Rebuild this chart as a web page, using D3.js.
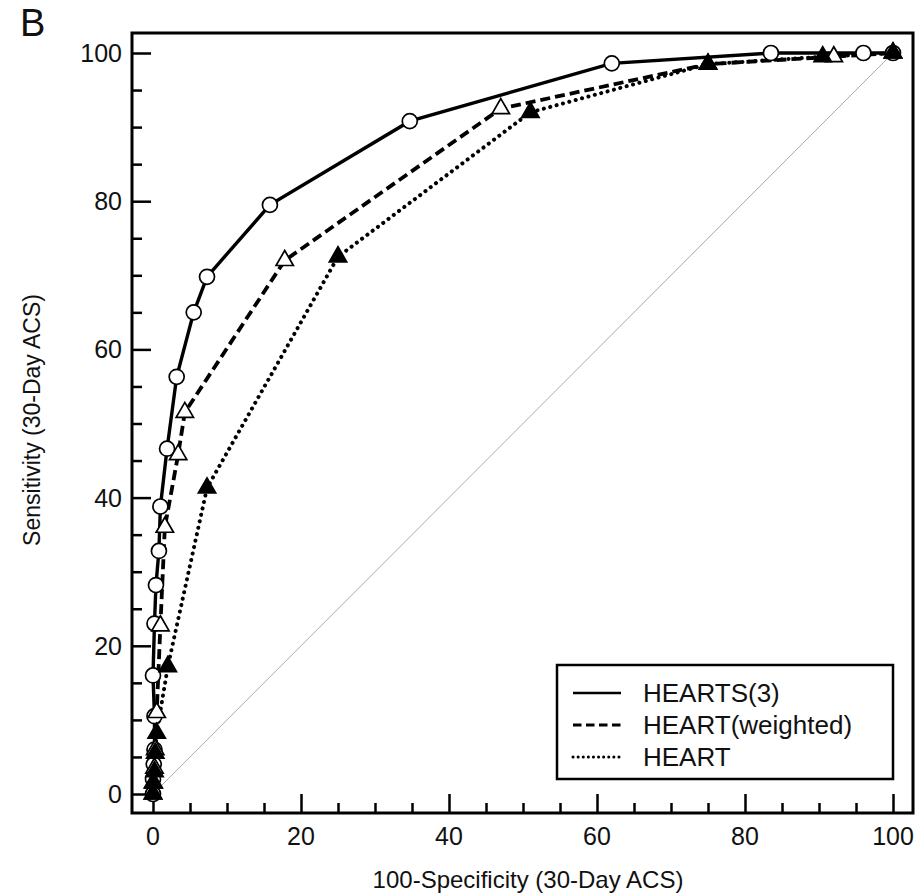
<!DOCTYPE html>
<html>
<head>
<meta charset="utf-8">
<script src="https://d3js.org/d3.v7.min.js"></script>
<style>
  body { margin: 0; background: #fff; }
  text { font-family: "Liberation Sans", Arial, Helvetica, sans-serif; fill: #111; }
</style>
</head>
<body>
<svg id="chart" width="919" height="895"></svg>
<script>
// data: x = 100-specificity, y = sensitivity
const heartsX = [0, 0, 0.1, 0.2, 0.2, 0, 0.2, 0.4, 0.8, 1.0, 1.9, 3.2, 5.5, 7.3, 15.8, 34.7, 62, 83.5, 96, 100];
const heartsY = [0, 2, 4, 6, 10.5, 16, 23, 28.2, 32.8, 38.8, 46.6, 56.3, 65, 69.8, 79.5, 90.8, 98.6, 100, 100, 100];

const weightedX = [0, 0.1, 0.2, 0.3, 0.5, 1.0, 1.6, 3.4, 4.3, 17.8, 47, 75, 92, 100];
const weightedY = [0, 1.5, 3.5, 6, 11, 22.7, 36, 45.8, 51.5, 72, 92.5, 98.5, 99.5, 100];

const heartX = [0, 0, 0.2, 0.3, 0.5, 2.0, 7.3, 25, 51, 75, 90.5, 100];
const heartY = [0, 1.5, 3, 5.5, 8.2, 17.2, 41.3, 72.5, 92, 98.5, 99.5, 100];

const majorTicks = [0, 20, 40, 60, 80, 100];
const legendNames = ["HEARTS(3)", "HEART(weighted)", "HEART"];

const svg = d3.select("#chart");

const frame = { left: 132, top: 33, right: 913, bottom: 813 };

var x = d3.scaleLinear().domain([0, 100]).range([153, 893]);
var y = d3.scaleLinear().domain([0, 100]).range([794, 53]);

function zip(xs, ys) {
    return xs.map(function (v, i) { return [v, ys[i]]; });
}

// panel letter
svg.append("text")
    .attr("x", 20).attr("y", 36)
    .attr("font-size", 38)
    .text("B");

// chance diagonal
svg.append("line")
    .attr("x1", x(0)).attr("y1", y(0))
    .attr("x2", x(100)).attr("y2", y(100))
    .attr("stroke", "#aaa")
    .attr("stroke-width", 1);

// ticks - all inward, minor every 5
var tickVals = d3.range(0, 101, 5);

var xAxis = d3.axisTop(x)
    .tickValues(tickVals)
    .tickSizeInner(0).tickSizeOuter(0)
    .tickFormat("");
var gx = svg.append("g").attr("transform", "translate(0," + frame.bottom + ")").call(xAxis);
gx.select(".domain").remove();
gx.selectAll(".tick line")
    .attr("y2", function (d) { return d % 20 == 0 ? -19 : -10; })
    .attr("stroke", "#000").attr("stroke-width", 2.5);

var yAxis = d3.axisRight(y)
    .tickValues(tickVals)
    .tickSizeInner(0).tickSizeOuter(0)
    .tickFormat("");
var gy = svg.append("g").attr("transform", "translate(" + frame.left + ",0)").call(yAxis);
gy.select(".domain").remove();
gy.selectAll(".tick line")
    .attr("x2", function (d) { return d % 20 == 0 ? 19 : 10; })
    .attr("stroke", "#000").attr("stroke-width", 2.5);

// tick labels
svg.selectAll(".xlab").data(majorTicks).enter().append("text")
    .attr("x", function (d) { return x(d); })
    .attr("y", 845)
    .attr("text-anchor", "middle")
    .attr("font-size", 25)
    .text(function (d) { return d; });

svg.selectAll(".ylab").data(majorTicks).enter().append("text")
    .attr("x", 122)
    .attr("y", function (d) { return y(d) + 9; })
    .attr("text-anchor", "end")
    .attr("font-size", 25)
    .text(function (d) { return d; });

// axis titles
svg.append("text")
    .attr("x", 528).attr("y", 888)
    .attr("text-anchor", "middle")
    .attr("font-size", 24)
    .text("100-Specificity (30-Day ACS)");

svg.append("text")
    .attr("transform", "translate(40,420) rotate(-90)")
    .attr("text-anchor", "middle")
    .attr("font-size", 23)
    .text("Sensitivity (30-Day ACS)");

// curves
var line = d3.line()
    .x(function (d) { return x(d[0]); })
    .y(function (d) { return y(d[1]); });

var series = [
    { pts: zip(heartsX, heartsY), dash: null, cap: "butt", w: 3.4 },
    { pts: zip(weightedX, weightedY), dash: "10,5", cap: "butt", w: 3.8 },
    { pts: zip(heartX, heartY), dash: "0.1,6.5", cap: "round", w: 4 }
];

series.forEach(function (s) {
    svg.append("path")
        .attr("d", line(s.pts))
        .attr("fill", "none")
        .attr("stroke", "#000")
        .attr("stroke-width", s.w)
        .attr("stroke-linecap", s.cap)
        .attr("stroke-dasharray", s.dash);
});

// markers
var tri = d3.symbol().type(d3.symbolTriangle).size(130);

svg.selectAll(".circ").data(series[0].pts).enter().append("circle")
    .attr("cx", function (d) { return x(d[0]); })
    .attr("cy", function (d) { return y(d[1]); })
    .attr("r", 7.5)
    .attr("fill", "#fff")
    .attr("stroke", "#000")
    .attr("stroke-width", 1.7);

svg.selectAll(".otri").data(series[1].pts).enter().append("path")
    .attr("d", tri)
    .attr("transform", function (d) { return "translate(" + x(d[0]) + "," + y(d[1]) + ")"; })
    .attr("fill", "#fff")
    .attr("stroke", "#000")
    .attr("stroke-width", 1.7);

svg.selectAll(".ftri").data(series[2].pts).enter().append("path")
    .attr("d", tri)
    .attr("transform", function (d) { return "translate(" + x(d[0]) + "," + y(d[1]) + ")"; })
    .attr("fill", "#000")
    .attr("stroke", "#000")
    .attr("stroke-width", 1.7);

// frame
svg.append("rect")
    .attr("x", frame.left).attr("y", frame.top)
    .attr("width", frame.right - frame.left)
    .attr("height", frame.bottom - frame.top)
    .attr("fill", "none")
    .attr("stroke", "#000")
    .attr("stroke-width", 3);

// legend
var leg = svg.append("g").attr("transform", "translate(557,665)");
leg.append("rect")
    .attr("width", 336).attr("height", 114)
    .attr("fill", "#fff")
    .attr("stroke", "#000")
    .attr("stroke-width", 2.5);

legendNames.forEach(function (name, i) {
    var ly = 28 + i * 32;
    leg.append("line")
        .attr("x1", 16).attr("x2", 64)
        .attr("y1", ly).attr("y2", ly)
        .attr("stroke", "#000")
        .attr("stroke-width", series[i].w - 1)
        .attr("stroke-linecap", i == 2 ? "round" : "butt")
        .attr("stroke-dasharray", i == 0 ? null : (i == 1 ? "8.5,4.5" : "0.1,5"));
    leg.append("text")
        .attr("x", 86).attr("y", ly + 9)
        .attr("font-size", 26)
        .text(name);
});
</script>
</body>
</html>
